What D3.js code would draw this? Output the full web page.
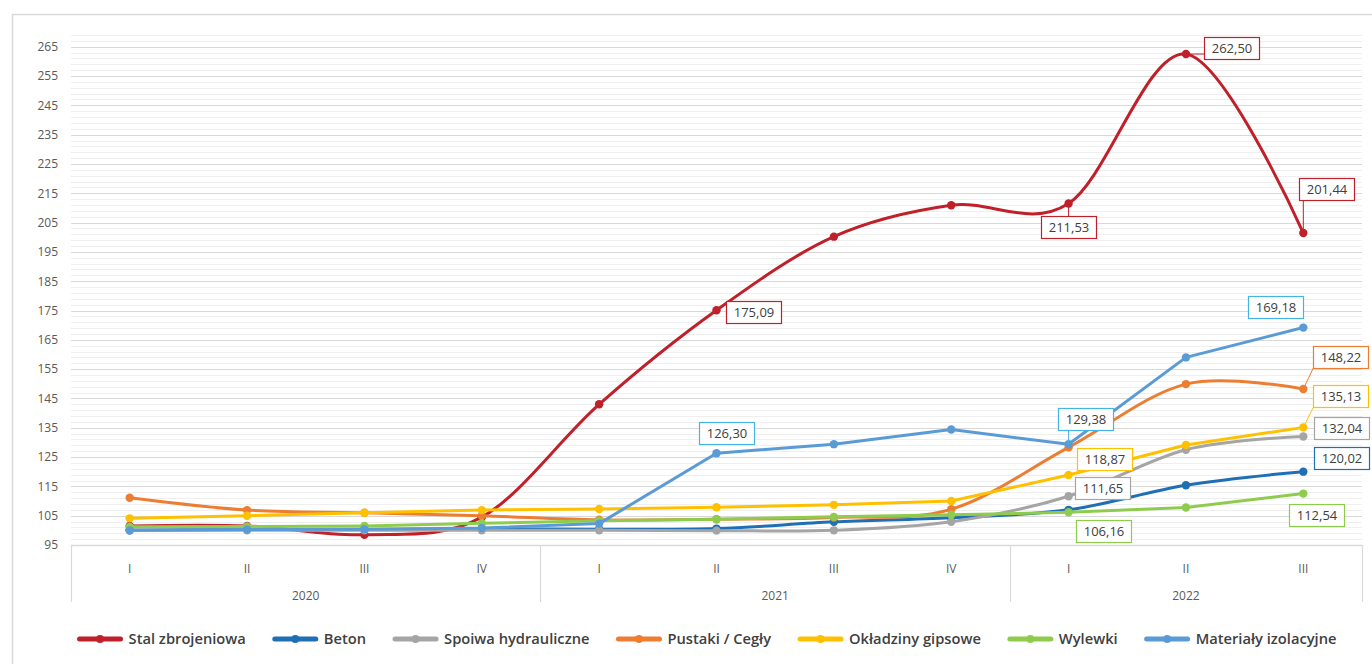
<!DOCTYPE html>
<html>
<head>
<meta charset="utf-8">
<script src="https://cdn.jsdelivr.net/npm/d3@7"></script>
<style>
  html, body { margin: 0; padding: 0; background: #fff; }
  svg { display: block; font-family: "Open Sans", "Noto Sans", sans-serif; }
</style>
</head>
<body>
<svg id="chart" width="1372" height="664"></svg>
<script>
// Quarterly price indices of construction materials, 2020–2022
const quarters = ["I", "II", "III", "IV", "I", "II", "III", "IV", "I", "II", "III"];
const years = ["2020", "2021", "2022"];
const quartersPerYear = [4, 4, 3];
const yTicks = [95, 105, 115, 125, 135, 145, 155, 165, 175, 185, 195, 205, 215, 225, 235, 245, 255, 265];

const seriesNames = ["Stal zbrojeniowa", "Beton", "Spoiwa hydrauliczne", "Pustaki / Cegły",
                     "Okładziny gipsowe", "Wylewki", "Materiały izolacyjne"];

const stal       = [101.5, 101.5, 98.5, 104.5, 143.0, 175.09, 200.2, 210.9, 211.53, 262.50, 201.44];
const beton      = [100.0, 100.3, 100.3, 100.5, 100.4, 100.6, 102.9, 104.3, 107.0, 115.4, 120.02];
const spoiwa     = [100.0, 100.0, 100.0, 100.0, 100.0, 99.9, 100.0, 102.9, 111.65, 127.5, 132.04];
const pustaki    = [111.1, 106.9, 106.0, 105.0, 103.6, 103.8, 104.4, 107.2, 128.3, 149.9, 148.22];
const okladziny  = [104.1, 105.0, 106.0, 106.9, 107.3, 107.9, 108.7, 110.0, 118.87, 129.1, 135.13];
const wylewki    = [101.2, 101.3, 101.5, 102.4, 103.3, 103.8, 104.6, 105.3, 106.16, 107.8, 112.54];
const izolacyjne = [100.0, 100.3, 100.4, 100.8, 102.3, 126.30, 129.4, 134.4, 129.38, 159.0, 169.18];

const seriesValues = [stal, beton, spoiwa, pustaki, okladziny, wylewki, izolacyjne];
const colors = ["#c0202a", "#1f6fb6", "#a5a5a5", "#ed7d31", "#ffc000", "#8fcc4e", "#5b9bd5"];
const labelBorder = ["#c0202a", "#1f6fb6", "#a5a5a5", "#ed7d31", "#ffc000", "#8fcc4e", "#45b3e3"];
const smooth = [true, true, true, true, false, false, false];

// Which points carry a value callout, and where the callout box sits relative to its point
const callouts = [
  { s: 0, i: 5, dx: 37.5, dy: 1.5 },
  { s: 0, i: 8, dx: 0, dy: 24 },
  { s: 0, i: 9, dx: 45.5, dy: -6.5 },
  { s: 0, i: 10, dx: 23, dy: -44 },
  { s: 6, i: 5, dx: 10.5, dy: -20 },
  { s: 6, i: 8, dx: 16.5, dy: -25 },
  { s: 6, i: 10, dx: -28, dy: -21 },
  { s: 3, i: 10, dx: 37.5, dy: -32 },
  { s: 4, i: 10, dx: 37.5, dy: -31 },
  { s: 2, i: 10, dx: 38.5, dy: -8 },
  { s: 1, i: 10, dx: 38, dy: -13.5 },
  { s: 5, i: 10, dx: 13.5, dy: 21.5 },
  { s: 4, i: 8, dx: 35.5, dy: -16 },
  { s: 2, i: 8, dx: 34, dy: -8 },
  { s: 5, i: 8, dx: 35, dy: 19 }
];

const svg = d3.select("#chart");
const plot = { left: 71, right: 1362, top: 35, bottom: 545 };

// Outer frame
svg.append("rect")
  .attr("x", 12.5).attr("y", 14.5).attr("width", 1380).attr("height", 700)
  .attr("fill", "none").attr("stroke", "#d9d9d9").attr("stroke-width", 1.5);

const x = d3.scaleBand().domain(d3.range(quarters.length))
  .range([plot.left, plot.right]).paddingInner(0).paddingOuter(0);
const xc = i => x(i) + x.bandwidth() / 2;
const y = d3.scaleLinear().domain([95, 269]).range([plot.bottom, plot.top]);

// Minor grid every 2 units, major grid on the labelled ticks
const grid = svg.append("g");
grid.selectAll("line.minor").data(d3.range(97, 270, 2)).join("line")
  .attr("class", "minor")
  .attr("x1", plot.left).attr("x2", plot.right)
  .attr("y1", d => Math.round(y(d)) + 0.5).attr("y2", d => Math.round(y(d)) + 0.5)
  .attr("stroke", "#efefef").attr("stroke-width", 1);
grid.selectAll("line.major").data(yTicks.slice(1)).join("line")
  .attr("class", "major")
  .attr("x1", plot.left).attr("x2", plot.right)
  .attr("y1", d => Math.round(y(d)) + 0.5).attr("y2", d => Math.round(y(d)) + 0.5)
  .attr("stroke", "#d9d9d9").attr("stroke-width", 1.2);

// Y axis labels
const yAxis = svg.append("g").attr("transform", `translate(${plot.left - 13},0)`)
  .call(d3.axisLeft(y).tickValues(yTicks).tickSize(0).tickPadding(0));
yAxis.select(".domain").remove();
yAxis.selectAll("text").attr("fill", "#595959").attr("font-size", 12)
  .attr("font-family", "'Open Sans', sans-serif");

// X axis: baseline, quarter labels, year groups
svg.append("line")
  .attr("x1", plot.left).attr("x2", plot.right)
  .attr("y1", plot.bottom + 0.5).attr("y2", plot.bottom + 0.5)
  .attr("stroke", "#d9d9d9").attr("stroke-width", 1.5);

const xAxis = svg.append("g").attr("transform", `translate(0,${plot.bottom})`)
  .call(d3.axisBottom(x).tickFormat(i => quarters[i]).tickSize(0).tickPadding(19));
xAxis.select(".domain").remove();
xAxis.selectAll("text").attr("fill", "#595959").attr("font-size", 12)
  .attr("font-family", "'Open Sans', sans-serif");

const groupEdges = [0];
quartersPerYear.forEach(n => groupEdges.push(groupEdges[groupEdges.length - 1] + n));
const edgeX = k => k >= quarters.length ? plot.right : x(k);
svg.append("g").selectAll("line").data(groupEdges).join("line")
  .attr("x1", k => Math.round(edgeX(k)) + 0.5).attr("x2", k => Math.round(edgeX(k)) + 0.5)
  .attr("y1", plot.bottom).attr("y2", plot.bottom + 57)
  .attr("stroke", "#d9d9d9").attr("stroke-width", 1.2);
svg.append("g").selectAll("text").data(years).join("text")
  .attr("x", (d, k) => (edgeX(groupEdges[k]) + edgeX(groupEdges[k + 1])) / 2)
  .attr("y", plot.bottom + 55)
  .attr("text-anchor", "middle").attr("fill", "#595959").attr("font-size", 12)
  .text(d => d);

// Series lines and markers
const lines = svg.append("g");
seriesValues.forEach((vals, s) => {
  const gen = d3.line().x((d, i) => xc(i)).y(d => y(d))
    .curve(smooth[s] ? d3.curveCardinal.tension(0) : d3.curveLinear);
  lines.append("path").datum(vals)
    .attr("d", gen).attr("fill", "none")
    .attr("stroke", colors[s]).attr("stroke-width", 3)
    .attr("stroke-linejoin", "round").attr("stroke-linecap", "round");
  lines.append("g").selectAll("circle").data(vals).join("circle")
    .attr("cx", (d, i) => xc(i)).attr("cy", d => y(d)).attr("r", 4.2)
    .attr("fill", colors[s]);
});

// Value callouts
const fmt = v => v.toFixed(2).replace(".", ",");
const boxW = 55, boxH = 22;
const calloutLayer = svg.append("g");
callouts.forEach(c => {
  const v = seriesValues[c.s][c.i];
  const px = xc(c.i), py = y(v);
  const cx = px + c.dx, cy = py + c.dy;
  const bx0 = cx - boxW / 2, by0 = cy - boxH / 2;
  const nx = Math.max(bx0, Math.min(px, bx0 + boxW));
  const ny = Math.max(by0, Math.min(py, by0 + boxH));
  if (Math.hypot(nx - px, ny - py) > 12) {
    calloutLayer.append("line")
      .attr("x1", px).attr("y1", py).attr("x2", nx).attr("y2", ny)
      .attr("stroke", labelBorder[c.s]).attr("stroke-width", 1);
  }
  calloutLayer.append("rect")
    .attr("x", Math.round(bx0) + 0.5).attr("y", Math.round(by0) + 0.5)
    .attr("width", boxW).attr("height", boxH)
    .attr("fill", "#fff").attr("stroke", labelBorder[c.s]).attr("stroke-width", 1.2);
  calloutLayer.append("text")
    .attr("x", Math.round(bx0) + 0.5 + boxW / 2).attr("y", Math.round(by0) + boxH / 2 + 5)
    .attr("text-anchor", "middle").attr("font-size", 13).attr("fill", "#404040")
    .text(fmt(v));
});

// Legend
const legend = svg.append("g");
const legendY = 639, swatch = 41, gap = 8, itemGap = 29;
const items = seriesNames.map((name, s) => {
  const g = legend.append("g");
  g.append("line").attr("x1", 0).attr("x2", swatch).attr("y1", 0).attr("y2", 0)
    .attr("stroke", colors[s]).attr("stroke-width", 5).attr("stroke-linecap", "round");
  g.append("circle").attr("cx", swatch / 2).attr("cy", 0).attr("r", 4).attr("fill", colors[s]);
  const t = g.append("text").attr("x", swatch + gap).attr("y", 5)
    .attr("font-size", 14.7).attr("font-weight", 600).attr("fill", "#404040").text(name);
  return { g, w: swatch + gap + t.node().getComputedTextLength() };
});
const totalW = d3.sum(items, d => d.w) + itemGap * (items.length - 1);
let lx = 708 - totalW / 2;
items.forEach(it => {
  it.g.attr("transform", `translate(${lx},${legendY})`);
  lx += it.w + itemGap;
});
</script>
</body>
</html>
